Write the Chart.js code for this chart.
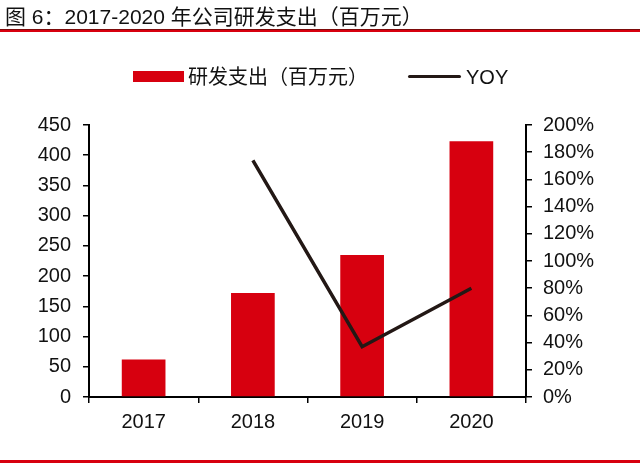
<!DOCTYPE html>
<html>
<head>
<meta charset="utf-8">
<script src="https://cdn.jsdelivr.net/npm/chart.js@4"></script>
<style>
  html, body { margin: 0; padding: 0; background: #fff; }
  #wrap { position: relative; width: 640px; height: 464px; overflow: hidden; }
  #title { position: absolute; left: 5px; top: 5px; font-family: "Liberation Sans", "Noto Sans CJK SC", sans-serif; font-size: 21px; line-height: 24px; color: #111; white-space: nowrap; }
  #rule1 { position: absolute; left: 0; top: 29px; width: 640px; height: 1px; background: #7a0a0a; }
  #rule2 { position: absolute; left: 0; top: 30px; width: 640px; height: 2px; background: #d7000f; }
  #rule3 { position: absolute; left: 0; top: 460px; width: 640px; height: 3px; background: #d7000f; }
  .leg { position: absolute; font-family: "Liberation Sans", "Noto Sans CJK SC", sans-serif; font-size: 20px; line-height: 24px; color: #111; white-space: nowrap; }
  #sw1 { position: absolute; left: 133px; top: 71px; width: 51px; height: 11px; background: #d7000f; }
  #sw2 { position: absolute; left: 408px; top: 75px; width: 53px; height: 3px; background: #231815; border-radius: 2px; }
  canvas { position: absolute; left: 0; top: 0; }
</style>
</head>
<body>
<div id="wrap">
  <canvas id="c" width="640" height="464"></canvas>
  <div id="title">图 6：2017-2020 年公司研发支出（百万元）</div>
  <div id="rule1"></div><div id="rule2"></div>
  <div id="sw1"></div><div class="leg" id="lt1" style="left:188px;top:65px;">研发支出（百万元）</div>
  <div id="sw2"></div><div class="leg" id="lt2" style="left:466px;top:65px;">YOY</div>
  <div id="rule3"></div>
</div>
<script>
const categories = ["2017", "2018", "2019", "2020"];
const rdSpend = [62, 172, 235, 423];
const yoy = [null, 174, 37, 80];
const leftTicks = [0, 50, 100, 150, 200, 250, 300, 350, 400, 450];
const rightTicks = [0, 20, 40, 60, 80, 100, 120, 140, 160, 180, 200];

const FONT = { family: '"Liberation Sans", Arial, sans-serif', size: 20 };

new Chart(document.getElementById('c'), {
  type: 'bar',
  data: {
    labels: categories,
    datasets: [
      {
        type: 'line',
        label: 'YOY',
        data: yoy,
        yAxisID: 'y1',
        borderColor: '#231815',
        borderWidth: 3.5,
        pointRadius: 0,
        tension: 0,
        spanGaps: false,
        order: 0
      },
      {
        type: 'bar',
        label: '研发支出（百万元）',
        data: rdSpend,
        yAxisID: 'y',
        backgroundColor: '#d7000f',
        barPercentage: 0.4,
        categoryPercentage: 1.0,
        order: 1
      }
    ]
  },
  options: {
    responsive: false,
    animation: false,
    devicePixelRatio: 1,
    layout: { padding: { top: 125, left: 0, right: 0, bottom: 0 } },
    plugins: { legend: { display: false }, tooltip: { enabled: false } },
    scales: {
      x: {
        grid: { display: true, offset: true, drawOnChartArea: false, drawTicks: true, tickLength: 6, color: '#000', lineWidth: 1.5 },
        border: { display: true, color: '#000', width: 2 },
        ticks: { color: '#111', font: FONT, padding: 7, maxRotation: 0 },
        afterFit: s => { s.height = 67; }
      },
      y: {
        position: 'left',
        min: 0, max: 450,
        afterBuildTicks: s => { s.ticks = leftTicks.map(v => ({ value: v })); },
        grid: { display: true, drawOnChartArea: false, tickLength: 6, color: '#000', lineWidth: 1.5 },
        border: { display: true, color: '#000', width: 2 },
        ticks: { color: '#111', font: FONT, padding: 12 },
        afterFit: s => { s.width = 89; }
      },
      y1: {
        position: 'right',
        min: 0, max: 200,
        afterBuildTicks: s => { s.ticks = rightTicks.map(v => ({ value: v })); },
        grid: { display: true, drawOnChartArea: false, tickLength: 6, color: '#000', lineWidth: 1.5 },
        border: { display: true, color: '#000', width: 2 },
        ticks: { color: '#111', font: FONT, padding: 11, callback: v => v + '%' },
        afterFit: s => { s.width = 114; }
      }
    }
  }
});
</script>
</body>
</html>
